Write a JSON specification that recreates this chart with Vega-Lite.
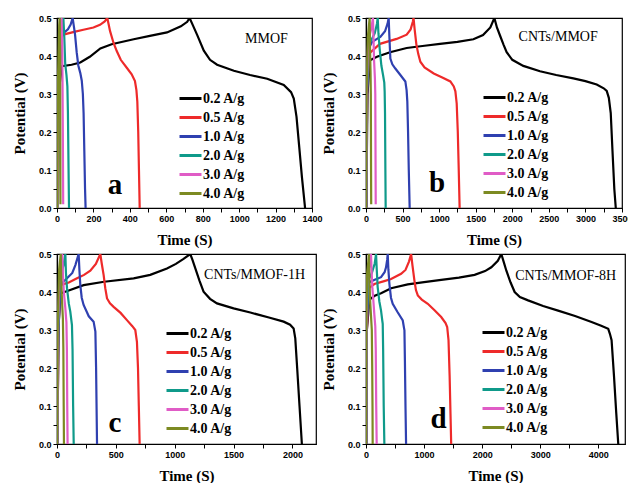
{
"$schema":"https://vega.github.io/schema/vega-lite/v6.json",
"background":"white",
"padding":{"left":11,"top":13,"right":0,"bottom":0},
"config":{
 "view":{"stroke":"black","strokeWidth":1.2},
 "axis":{"domainColor":"black","domainWidth":1.2,"tickColor":"black","tickWidth":1,"tickSize":4,"tickCount":100,"labelFont":"Liberation Sans","labelFontWeight":"bold","labelFontSize":9,"labelColor":"black","labelPadding":2,"titleFont":"Liberation Serif","titleFontWeight":"bold","titleFontSize":15,"titleColor":"black","grid":false,"labelFlush":false,"labelOverlap":false},
 "axisX":{"titlePadding":9},
 "axisY":{"titlePadding":11},
 "legend":{"orient":"none","title":null,"symbolType":"M-1.1,0H1.1","symbolStrokeWidth":3,"symbolSize":400,"labelFont":"Liberation Serif","labelFontWeight":"bold","labelFontSize":14,"labelColor":"black","rowPadding":-1.5,"labelOffset":1},
 "text":{"font":"Liberation Serif","color":"black"}
},
"datasets":{
"curves":[
{"p":"a","s":"0.2 A/g","t":2,"v":0},{"p":"a","s":"0.2 A/g","t":8,"v":0.3},{"p":"a","s":"0.2 A/g","t":27,"v":0.373},{"p":"a","s":"0.2 A/g","t":80,"v":0.377},{"p":"a","s":"0.2 A/g","t":128,"v":0.383},{"p":"a","s":"0.2 A/g","t":180,"v":0.398},{"p":"a","s":"0.2 A/g","t":238,"v":0.42},{"p":"a","s":"0.2 A/g","t":300,"v":0.431},{"p":"a","s":"0.2 A/g","t":421,"v":0.444},{"p":"a","s":"0.2 A/g","t":510,"v":0.453},{"p":"a","s":"0.2 A/g","t":604,"v":0.462},{"p":"a","s":"0.2 A/g","t":680,"v":0.478},{"p":"a","s":"0.2 A/g","t":715,"v":0.49},{"p":"a","s":"0.2 A/g","t":728,"v":0.5},{"p":"a","s":"0.2 A/g","t":745,"v":0.482},{"p":"a","s":"0.2 A/g","t":770,"v":0.455},{"p":"a","s":"0.2 A/g","t":806,"v":0.414},{"p":"a","s":"0.2 A/g","t":840,"v":0.39},{"p":"a","s":"0.2 A/g","t":879,"v":0.377},{"p":"a","s":"0.2 A/g","t":971,"v":0.361},{"p":"a","s":"0.2 A/g","t":1060,"v":0.35},{"p":"a","s":"0.2 A/g","t":1154,"v":0.34},{"p":"a","s":"0.2 A/g","t":1245,"v":0.324},{"p":"a","s":"0.2 A/g","t":1285,"v":0.305},{"p":"a","s":"0.2 A/g","t":1300,"v":0.288},{"p":"a","s":"0.2 A/g","t":1315,"v":0.24},{"p":"a","s":"0.2 A/g","t":1330,"v":0.16},{"p":"a","s":"0.2 A/g","t":1345,"v":0.08},{"p":"a","s":"0.2 A/g","t":1362,"v":0},
{"p":"a","s":"0.5 A/g","t":3,"v":0},{"p":"a","s":"0.5 A/g","t":10,"v":0.3},{"p":"a","s":"0.5 A/g","t":25,"v":0.452},{"p":"a","s":"0.5 A/g","t":40,"v":0.457},{"p":"a","s":"0.5 A/g","t":100,"v":0.464},{"p":"a","s":"0.5 A/g","t":145,"v":0.469},{"p":"a","s":"0.5 A/g","t":200,"v":0.475},{"p":"a","s":"0.5 A/g","t":236,"v":0.482},{"p":"a","s":"0.5 A/g","t":262,"v":0.491},{"p":"a","s":"0.5 A/g","t":276,"v":0.5},{"p":"a","s":"0.5 A/g","t":284,"v":0.482},{"p":"a","s":"0.5 A/g","t":291,"v":0.466},{"p":"a","s":"0.5 A/g","t":310,"v":0.435},{"p":"a","s":"0.5 A/g","t":328,"v":0.413},{"p":"a","s":"0.5 A/g","t":350,"v":0.39},{"p":"a","s":"0.5 A/g","t":383,"v":0.369},{"p":"a","s":"0.5 A/g","t":410,"v":0.352},{"p":"a","s":"0.5 A/g","t":428,"v":0.334},{"p":"a","s":"0.5 A/g","t":436,"v":0.31},{"p":"a","s":"0.5 A/g","t":441,"v":0.28},{"p":"a","s":"0.5 A/g","t":446,"v":0.2},{"p":"a","s":"0.5 A/g","t":450,"v":0.1},{"p":"a","s":"0.5 A/g","t":454,"v":0},
{"p":"a","s":"1.0 A/g","t":4,"v":0},{"p":"a","s":"1.0 A/g","t":12,"v":0.35},{"p":"a","s":"1.0 A/g","t":25,"v":0.455},{"p":"a","s":"1.0 A/g","t":40,"v":0.462},{"p":"a","s":"1.0 A/g","t":60,"v":0.47},{"p":"a","s":"1.0 A/g","t":75,"v":0.483},{"p":"a","s":"1.0 A/g","t":86,"v":0.5},{"p":"a","s":"1.0 A/g","t":92,"v":0.48},{"p":"a","s":"1.0 A/g","t":99,"v":0.457},{"p":"a","s":"1.0 A/g","t":108,"v":0.41},{"p":"a","s":"1.0 A/g","t":117,"v":0.375},{"p":"a","s":"1.0 A/g","t":128,"v":0.355},{"p":"a","s":"1.0 A/g","t":136,"v":0.335},{"p":"a","s":"1.0 A/g","t":142,"v":0.3},{"p":"a","s":"1.0 A/g","t":146,"v":0.25},{"p":"a","s":"1.0 A/g","t":150,"v":0.15},{"p":"a","s":"1.0 A/g","t":154,"v":0.05},{"p":"a","s":"1.0 A/g","t":157,"v":0},
{"p":"a","s":"2.0 A/g","t":5,"v":0},{"p":"a","s":"2.0 A/g","t":15,"v":0.35},{"p":"a","s":"2.0 A/g","t":28,"v":0.46},{"p":"a","s":"2.0 A/g","t":35,"v":0.5},{"p":"a","s":"2.0 A/g","t":40,"v":0.45},{"p":"a","s":"2.0 A/g","t":45,"v":0.38},{"p":"a","s":"2.0 A/g","t":52,"v":0.35},{"p":"a","s":"2.0 A/g","t":57,"v":0.32},{"p":"a","s":"2.0 A/g","t":60,"v":0.25},{"p":"a","s":"2.0 A/g","t":63,"v":0.12},{"p":"a","s":"2.0 A/g","t":66,"v":0},
{"p":"a","s":"3.0 A/g","t":3,"v":0},{"p":"a","s":"3.0 A/g","t":10,"v":0.35},{"p":"a","s":"3.0 A/g","t":20,"v":0.48},{"p":"a","s":"3.0 A/g","t":25,"v":0.5},{"p":"a","s":"3.0 A/g","t":28,"v":0.44},{"p":"a","s":"3.0 A/g","t":30,"v":0.35},{"p":"a","s":"3.0 A/g","t":32,"v":0.2},{"p":"a","s":"3.0 A/g","t":34,"v":0.01},
{"p":"a","s":"4.0 A/g","t":2,"v":0},{"p":"a","s":"4.0 A/g","t":6,"v":0.35},{"p":"a","s":"4.0 A/g","t":12,"v":0.48},{"p":"a","s":"4.0 A/g","t":15,"v":0.5},{"p":"a","s":"4.0 A/g","t":17,"v":0.4},{"p":"a","s":"4.0 A/g","t":18,"v":0.2},{"p":"a","s":"4.0 A/g","t":19,"v":0.01},

{"p":"b","s":"0.2 A/g","t":5,"v":0},{"p":"b","s":"0.2 A/g","t":20,"v":0.3},{"p":"b","s":"0.2 A/g","t":55,"v":0.389},{"p":"b","s":"0.2 A/g","t":150,"v":0.398},{"p":"b","s":"0.2 A/g","t":328,"v":0.41},{"p":"b","s":"0.2 A/g","t":556,"v":0.421},{"p":"b","s":"0.2 A/g","t":800,"v":0.427},{"p":"b","s":"0.2 A/g","t":1012,"v":0.432},{"p":"b","s":"0.2 A/g","t":1250,"v":0.437},{"p":"b","s":"0.2 A/g","t":1468,"v":0.444},{"p":"b","s":"0.2 A/g","t":1600,"v":0.455},{"p":"b","s":"0.2 A/g","t":1700,"v":0.475},{"p":"b","s":"0.2 A/g","t":1755,"v":0.5},{"p":"b","s":"0.2 A/g","t":1790,"v":0.475},{"p":"b","s":"0.2 A/g","t":1832,"v":0.454},{"p":"b","s":"0.2 A/g","t":1880,"v":0.43},{"p":"b","s":"0.2 A/g","t":1923,"v":0.41},{"p":"b","s":"0.2 A/g","t":2000,"v":0.39},{"p":"b","s":"0.2 A/g","t":2151,"v":0.374},{"p":"b","s":"0.2 A/g","t":2379,"v":0.36},{"p":"b","s":"0.2 A/g","t":2600,"v":0.35},{"p":"b","s":"0.2 A/g","t":2835,"v":0.341},{"p":"b","s":"0.2 A/g","t":3000,"v":0.334},{"p":"b","s":"0.2 A/g","t":3154,"v":0.325},{"p":"b","s":"0.2 A/g","t":3250,"v":0.315},{"p":"b","s":"0.2 A/g","t":3291,"v":0.308},{"p":"b","s":"0.2 A/g","t":3320,"v":0.29},{"p":"b","s":"0.2 A/g","t":3346,"v":0.25},{"p":"b","s":"0.2 A/g","t":3370,"v":0.15},{"p":"b","s":"0.2 A/g","t":3395,"v":0.05},{"p":"b","s":"0.2 A/g","t":3415,"v":0},
{"p":"b","s":"0.5 A/g","t":5,"v":0},{"p":"b","s":"0.5 A/g","t":15,"v":0.3},{"p":"b","s":"0.5 A/g","t":40,"v":0.406},{"p":"b","s":"0.5 A/g","t":191,"v":0.432},{"p":"b","s":"0.5 A/g","t":419,"v":0.445},{"p":"b","s":"0.5 A/g","t":556,"v":0.456},{"p":"b","s":"0.5 A/g","t":610,"v":0.47},{"p":"b","s":"0.5 A/g","t":640,"v":0.49},{"p":"b","s":"0.5 A/g","t":650,"v":0.5},{"p":"b","s":"0.5 A/g","t":665,"v":0.47},{"p":"b","s":"0.5 A/g","t":689,"v":0.43},{"p":"b","s":"0.5 A/g","t":715,"v":0.405},{"p":"b","s":"0.5 A/g","t":743,"v":0.385},{"p":"b","s":"0.5 A/g","t":800,"v":0.37},{"p":"b","s":"0.5 A/g","t":926,"v":0.354},{"p":"b","s":"0.5 A/g","t":1050,"v":0.343},{"p":"b","s":"0.5 A/g","t":1153,"v":0.333},{"p":"b","s":"0.5 A/g","t":1200,"v":0.32},{"p":"b","s":"0.5 A/g","t":1222,"v":0.307},{"p":"b","s":"0.5 A/g","t":1240,"v":0.275},{"p":"b","s":"0.5 A/g","t":1255,"v":0.2},{"p":"b","s":"0.5 A/g","t":1268,"v":0.1},{"p":"b","s":"0.5 A/g","t":1280,"v":0},
{"p":"b","s":"1.0 A/g","t":5,"v":0},{"p":"b","s":"1.0 A/g","t":15,"v":0.3},{"p":"b","s":"1.0 A/g","t":40,"v":0.42},{"p":"b","s":"1.0 A/g","t":82,"v":0.437},{"p":"b","s":"1.0 A/g","t":150,"v":0.445},{"p":"b","s":"1.0 A/g","t":196,"v":0.45},{"p":"b","s":"1.0 A/g","t":260,"v":0.465},{"p":"b","s":"1.0 A/g","t":295,"v":0.485},{"p":"b","s":"1.0 A/g","t":310,"v":0.5},{"p":"b","s":"1.0 A/g","t":320,"v":0.45},{"p":"b","s":"1.0 A/g","t":333,"v":0.393},{"p":"b","s":"1.0 A/g","t":360,"v":0.378},{"p":"b","s":"1.0 A/g","t":401,"v":0.367},{"p":"b","s":"1.0 A/g","t":470,"v":0.35},{"p":"b","s":"1.0 A/g","t":538,"v":0.333},{"p":"b","s":"1.0 A/g","t":555,"v":0.31},{"p":"b","s":"1.0 A/g","t":565,"v":0.28},{"p":"b","s":"1.0 A/g","t":575,"v":0.2},{"p":"b","s":"1.0 A/g","t":585,"v":0.1},{"p":"b","s":"1.0 A/g","t":597,"v":0},
{"p":"b","s":"2.0 A/g","t":4,"v":0},{"p":"b","s":"2.0 A/g","t":12,"v":0.3},{"p":"b","s":"2.0 A/g","t":35,"v":0.43},{"p":"b","s":"2.0 A/g","t":80,"v":0.445},{"p":"b","s":"2.0 A/g","t":120,"v":0.46},{"p":"b","s":"2.0 A/g","t":150,"v":0.485},{"p":"b","s":"2.0 A/g","t":160,"v":0.5},{"p":"b","s":"2.0 A/g","t":170,"v":0.46},{"p":"b","s":"2.0 A/g","t":187,"v":0.419},{"p":"b","s":"2.0 A/g","t":210,"v":0.375},{"p":"b","s":"2.0 A/g","t":233,"v":0.35},{"p":"b","s":"2.0 A/g","t":250,"v":0.33},{"p":"b","s":"2.0 A/g","t":255,"v":0.307},{"p":"b","s":"2.0 A/g","t":260,"v":0.25},{"p":"b","s":"2.0 A/g","t":265,"v":0.1},{"p":"b","s":"2.0 A/g","t":269,"v":0},
{"p":"b","s":"3.0 A/g","t":3,"v":0},{"p":"b","s":"3.0 A/g","t":10,"v":0.3},{"p":"b","s":"3.0 A/g","t":30,"v":0.44},{"p":"b","s":"3.0 A/g","t":70,"v":0.47},{"p":"b","s":"3.0 A/g","t":95,"v":0.5},{"p":"b","s":"3.0 A/g","t":102,"v":0.45},{"p":"b","s":"3.0 A/g","t":110,"v":0.39},{"p":"b","s":"3.0 A/g","t":122,"v":0.34},{"p":"b","s":"3.0 A/g","t":127,"v":0.3},{"p":"b","s":"3.0 A/g","t":130,"v":0.15},{"p":"b","s":"3.0 A/g","t":133,"v":0.01},
{"p":"b","s":"4.0 A/g","t":2,"v":0},{"p":"b","s":"4.0 A/g","t":8,"v":0.3},{"p":"b","s":"4.0 A/g","t":25,"v":0.45},{"p":"b","s":"4.0 A/g","t":50,"v":0.5},{"p":"b","s":"4.0 A/g","t":55,"v":0.42},{"p":"b","s":"4.0 A/g","t":62,"v":0.36},{"p":"b","s":"4.0 A/g","t":66,"v":0.3},{"p":"b","s":"4.0 A/g","t":69,"v":0.1},{"p":"b","s":"4.0 A/g","t":71,"v":0.01},

{"p":"c","s":"0.2 A/g","t":4,"v":0},{"p":"c","s":"0.2 A/g","t":12,"v":0.3},{"p":"c","s":"0.2 A/g","t":28,"v":0.396},{"p":"c","s":"0.2 A/g","t":100,"v":0.404},{"p":"c","s":"0.2 A/g","t":226,"v":0.418},{"p":"c","s":"0.2 A/g","t":400,"v":0.427},{"p":"c","s":"0.2 A/g","t":651,"v":0.436},{"p":"c","s":"0.2 A/g","t":792,"v":0.445},{"p":"c","s":"0.2 A/g","t":934,"v":0.462},{"p":"c","s":"0.2 A/g","t":1010,"v":0.474},{"p":"c","s":"0.2 A/g","t":1075,"v":0.487},{"p":"c","s":"0.2 A/g","t":1132,"v":0.5},{"p":"c","s":"0.2 A/g","t":1150,"v":0.485},{"p":"c","s":"0.2 A/g","t":1175,"v":0.462},{"p":"c","s":"0.2 A/g","t":1210,"v":0.43},{"p":"c","s":"0.2 A/g","t":1245,"v":0.401},{"p":"c","s":"0.2 A/g","t":1300,"v":0.382},{"p":"c","s":"0.2 A/g","t":1359,"v":0.37},{"p":"c","s":"0.2 A/g","t":1500,"v":0.357},{"p":"c","s":"0.2 A/g","t":1642,"v":0.346},{"p":"c","s":"0.2 A/g","t":1800,"v":0.333},{"p":"c","s":"0.2 A/g","t":1925,"v":0.322},{"p":"c","s":"0.2 A/g","t":1980,"v":0.314},{"p":"c","s":"0.2 A/g","t":2010,"v":0.304},{"p":"c","s":"0.2 A/g","t":2024,"v":0.278},{"p":"c","s":"0.2 A/g","t":2040,"v":0.2},{"p":"c","s":"0.2 A/g","t":2060,"v":0.1},{"p":"c","s":"0.2 A/g","t":2080,"v":0},
{"p":"c","s":"0.5 A/g","t":4,"v":0},{"p":"c","s":"0.5 A/g","t":12,"v":0.3},{"p":"c","s":"0.5 A/g","t":28,"v":0.418},{"p":"c","s":"0.5 A/g","t":100,"v":0.425},{"p":"c","s":"0.5 A/g","t":170,"v":0.436},{"p":"c","s":"0.5 A/g","t":230,"v":0.445},{"p":"c","s":"0.5 A/g","t":283,"v":0.456},{"p":"c","s":"0.5 A/g","t":330,"v":0.474},{"p":"c","s":"0.5 A/g","t":368,"v":0.5},{"p":"c","s":"0.5 A/g","t":380,"v":0.475},{"p":"c","s":"0.5 A/g","t":396,"v":0.445},{"p":"c","s":"0.5 A/g","t":410,"v":0.41},{"p":"c","s":"0.5 A/g","t":425,"v":0.383},{"p":"c","s":"0.5 A/g","t":450,"v":0.37},{"p":"c","s":"0.5 A/g","t":481,"v":0.361},{"p":"c","s":"0.5 A/g","t":540,"v":0.345},{"p":"c","s":"0.5 A/g","t":594,"v":0.326},{"p":"c","s":"0.5 A/g","t":640,"v":0.31},{"p":"c","s":"0.5 A/g","t":665,"v":0.3},{"p":"c","s":"0.5 A/g","t":679,"v":0.269},{"p":"c","s":"0.5 A/g","t":688,"v":0.2},{"p":"c","s":"0.5 A/g","t":695,"v":0.1},{"p":"c","s":"0.5 A/g","t":702,"v":0},
{"p":"c","s":"1.0 A/g","t":4,"v":0},{"p":"c","s":"1.0 A/g","t":12,"v":0.3},{"p":"c","s":"1.0 A/g","t":30,"v":0.42},{"p":"c","s":"1.0 A/g","t":85,"v":0.436},{"p":"c","s":"1.0 A/g","t":130,"v":0.45},{"p":"c","s":"1.0 A/g","t":156,"v":0.471},{"p":"c","s":"1.0 A/g","t":184,"v":0.5},{"p":"c","s":"1.0 A/g","t":190,"v":0.46},{"p":"c","s":"1.0 A/g","t":198,"v":0.418},{"p":"c","s":"1.0 A/g","t":210,"v":0.385},{"p":"c","s":"1.0 A/g","t":226,"v":0.366},{"p":"c","s":"1.0 A/g","t":270,"v":0.336},{"p":"c","s":"1.0 A/g","t":311,"v":0.322},{"p":"c","s":"1.0 A/g","t":326,"v":0.296},{"p":"c","s":"1.0 A/g","t":332,"v":0.2},{"p":"c","s":"1.0 A/g","t":336,"v":0.1},{"p":"c","s":"1.0 A/g","t":340,"v":0},
{"p":"c","s":"2.0 A/g","t":3,"v":0},{"p":"c","s":"2.0 A/g","t":10,"v":0.3},{"p":"c","s":"2.0 A/g","t":25,"v":0.43},{"p":"c","s":"2.0 A/g","t":55,"v":0.47},{"p":"c","s":"2.0 A/g","t":71,"v":0.5},{"p":"c","s":"2.0 A/g","t":76,"v":0.45},{"p":"c","s":"2.0 A/g","t":85,"v":0.41},{"p":"c","s":"2.0 A/g","t":100,"v":0.37},{"p":"c","s":"2.0 A/g","t":113,"v":0.348},{"p":"c","s":"2.0 A/g","t":127,"v":0.313},{"p":"c","s":"2.0 A/g","t":132,"v":0.25},{"p":"c","s":"2.0 A/g","t":137,"v":0.1},{"p":"c","s":"2.0 A/g","t":142,"v":0},
{"p":"c","s":"3.0 A/g","t":3,"v":0},{"p":"c","s":"3.0 A/g","t":8,"v":0.3},{"p":"c","s":"3.0 A/g","t":22,"v":0.45},{"p":"c","s":"3.0 A/g","t":45,"v":0.5},{"p":"c","s":"3.0 A/g","t":50,"v":0.45},{"p":"c","s":"3.0 A/g","t":58,"v":0.4},{"p":"c","s":"3.0 A/g","t":70,"v":0.36},{"p":"c","s":"3.0 A/g","t":80,"v":0.32},{"p":"c","s":"3.0 A/g","t":84,"v":0.25},{"p":"c","s":"3.0 A/g","t":87,"v":0.1},{"p":"c","s":"3.0 A/g","t":90,"v":0},
{"p":"c","s":"4.0 A/g","t":2,"v":0},{"p":"c","s":"4.0 A/g","t":6,"v":0.3},{"p":"c","s":"4.0 A/g","t":18,"v":0.46},{"p":"c","s":"4.0 A/g","t":32,"v":0.5},{"p":"c","s":"4.0 A/g","t":36,"v":0.43},{"p":"c","s":"4.0 A/g","t":42,"v":0.38},{"p":"c","s":"4.0 A/g","t":50,"v":0.33},{"p":"c","s":"4.0 A/g","t":54,"v":0.25},{"p":"c","s":"4.0 A/g","t":57,"v":0.1},{"p":"c","s":"4.0 A/g","t":59,"v":0},

{"p":"d","s":"0.2 A/g","t":5,"v":0},{"p":"d","s":"0.2 A/g","t":15,"v":0.3},{"p":"d","s":"0.2 A/g","t":58,"v":0.38},{"p":"d","s":"0.2 A/g","t":150,"v":0.39},{"p":"d","s":"0.2 A/g","t":259,"v":0.397},{"p":"d","s":"0.2 A/g","t":432,"v":0.41},{"p":"d","s":"0.2 A/g","t":719,"v":0.42},{"p":"d","s":"0.2 A/g","t":1000,"v":0.426},{"p":"d","s":"0.2 A/g","t":1295,"v":0.432},{"p":"d","s":"0.2 A/g","t":1600,"v":0.438},{"p":"d","s":"0.2 A/g","t":1870,"v":0.445},{"p":"d","s":"0.2 A/g","t":2050,"v":0.455},{"p":"d","s":"0.2 A/g","t":2158,"v":0.465},{"p":"d","s":"0.2 A/g","t":2270,"v":0.482},{"p":"d","s":"0.2 A/g","t":2330,"v":0.5},{"p":"d","s":"0.2 A/g","t":2370,"v":0.48},{"p":"d","s":"0.2 A/g","t":2417,"v":0.456},{"p":"d","s":"0.2 A/g","t":2490,"v":0.425},{"p":"d","s":"0.2 A/g","t":2560,"v":0.4},{"p":"d","s":"0.2 A/g","t":2650,"v":0.387},{"p":"d","s":"0.2 A/g","t":2791,"v":0.378},{"p":"d","s":"0.2 A/g","t":3050,"v":0.363},{"p":"d","s":"0.2 A/g","t":3308,"v":0.351},{"p":"d","s":"0.2 A/g","t":3600,"v":0.337},{"p":"d","s":"0.2 A/g","t":3884,"v":0.321},{"p":"d","s":"0.2 A/g","t":4050,"v":0.311},{"p":"d","s":"0.2 A/g","t":4171,"v":0.303},{"p":"d","s":"0.2 A/g","t":4200,"v":0.29},{"p":"d","s":"0.2 A/g","t":4229,"v":0.273},{"p":"d","s":"0.2 A/g","t":4270,"v":0.18},{"p":"d","s":"0.2 A/g","t":4310,"v":0.08},{"p":"d","s":"0.2 A/g","t":4344,"v":0},
{"p":"d","s":"0.5 A/g","t":5,"v":0},{"p":"d","s":"0.5 A/g","t":15,"v":0.3},{"p":"d","s":"0.5 A/g","t":50,"v":0.41},{"p":"d","s":"0.5 A/g","t":144,"v":0.421},{"p":"d","s":"0.5 A/g","t":300,"v":0.428},{"p":"d","s":"0.5 A/g","t":432,"v":0.434},{"p":"d","s":"0.5 A/g","t":604,"v":0.448},{"p":"d","s":"0.5 A/g","t":680,"v":0.458},{"p":"d","s":"0.5 A/g","t":740,"v":0.48},{"p":"d","s":"0.5 A/g","t":777,"v":0.5},{"p":"d","s":"0.5 A/g","t":800,"v":0.47},{"p":"d","s":"0.5 A/g","t":834,"v":0.43},{"p":"d","s":"0.5 A/g","t":860,"v":0.405},{"p":"d","s":"0.5 A/g","t":892,"v":0.391},{"p":"d","s":"0.5 A/g","t":960,"v":0.38},{"p":"d","s":"0.5 A/g","t":1064,"v":0.369},{"p":"d","s":"0.5 A/g","t":1180,"v":0.352},{"p":"d","s":"0.5 A/g","t":1295,"v":0.334},{"p":"d","s":"0.5 A/g","t":1370,"v":0.318},{"p":"d","s":"0.5 A/g","t":1398,"v":0.308},{"p":"d","s":"0.5 A/g","t":1421,"v":0.273},{"p":"d","s":"0.5 A/g","t":1440,"v":0.18},{"p":"d","s":"0.5 A/g","t":1455,"v":0.08},{"p":"d","s":"0.5 A/g","t":1467,"v":0},
{"p":"d","s":"1.0 A/g","t":5,"v":0},{"p":"d","s":"1.0 A/g","t":12,"v":0.3},{"p":"d","s":"1.0 A/g","t":45,"v":0.425},{"p":"d","s":"1.0 A/g","t":150,"v":0.432},{"p":"d","s":"1.0 A/g","t":259,"v":0.439},{"p":"d","s":"1.0 A/g","t":320,"v":0.452},{"p":"d","s":"1.0 A/g","t":345,"v":0.465},{"p":"d","s":"1.0 A/g","t":365,"v":0.485},{"p":"d","s":"1.0 A/g","t":374,"v":0.5},{"p":"d","s":"1.0 A/g","t":385,"v":0.46},{"p":"d","s":"1.0 A/g","t":403,"v":0.421},{"p":"d","s":"1.0 A/g","t":430,"v":0.385},{"p":"d","s":"1.0 A/g","t":460,"v":0.369},{"p":"d","s":"1.0 A/g","t":540,"v":0.348},{"p":"d","s":"1.0 A/g","t":633,"v":0.325},{"p":"d","s":"1.0 A/g","t":655,"v":0.305},{"p":"d","s":"1.0 A/g","t":662,"v":0.299},{"p":"d","s":"1.0 A/g","t":670,"v":0.22},{"p":"d","s":"1.0 A/g","t":680,"v":0.1},{"p":"d","s":"1.0 A/g","t":690,"v":0},
{"p":"d","s":"2.0 A/g","t":4,"v":0},{"p":"d","s":"2.0 A/g","t":10,"v":0.3},{"p":"d","s":"2.0 A/g","t":35,"v":0.43},{"p":"d","s":"2.0 A/g","t":100,"v":0.45},{"p":"d","s":"2.0 A/g","t":150,"v":0.475},{"p":"d","s":"2.0 A/g","t":173,"v":0.5},{"p":"d","s":"2.0 A/g","t":185,"v":0.46},{"p":"d","s":"2.0 A/g","t":201,"v":0.413},{"p":"d","s":"2.0 A/g","t":230,"v":0.375},{"p":"d","s":"2.0 A/g","t":259,"v":0.351},{"p":"d","s":"2.0 A/g","t":280,"v":0.325},{"p":"d","s":"2.0 A/g","t":288,"v":0.316},{"p":"d","s":"2.0 A/g","t":295,"v":0.25},{"p":"d","s":"2.0 A/g","t":305,"v":0.1},{"p":"d","s":"2.0 A/g","t":316,"v":0},
{"p":"d","s":"3.0 A/g","t":3,"v":0},{"p":"d","s":"3.0 A/g","t":8,"v":0.3},{"p":"d","s":"3.0 A/g","t":25,"v":0.44},{"p":"d","s":"3.0 A/g","t":60,"v":0.47},{"p":"d","s":"3.0 A/g","t":86,"v":0.5},{"p":"d","s":"3.0 A/g","t":95,"v":0.46},{"p":"d","s":"3.0 A/g","t":110,"v":0.41},{"p":"d","s":"3.0 A/g","t":130,"v":0.37},{"p":"d","s":"3.0 A/g","t":144,"v":0.34},{"p":"d","s":"3.0 A/g","t":160,"v":0.31},{"p":"d","s":"3.0 A/g","t":168,"v":0.25},{"p":"d","s":"3.0 A/g","t":176,"v":0.1},{"p":"d","s":"3.0 A/g","t":184,"v":0},
{"p":"d","s":"4.0 A/g","t":2,"v":0},{"p":"d","s":"4.0 A/g","t":6,"v":0.3},{"p":"d","s":"4.0 A/g","t":20,"v":0.45},{"p":"d","s":"4.0 A/g","t":40,"v":0.48},{"p":"d","s":"4.0 A/g","t":50,"v":0.5},{"p":"d","s":"4.0 A/g","t":58,"v":0.44},{"p":"d","s":"4.0 A/g","t":70,"v":0.38},{"p":"d","s":"4.0 A/g","t":85,"v":0.34},{"p":"d","s":"4.0 A/g","t":100,"v":0.3},{"p":"d","s":"4.0 A/g","t":107,"v":0.2},{"p":"d","s":"4.0 A/g","t":112,"v":0.1},{"p":"d","s":"4.0 A/g","t":115,"v":0}
],
"labels":[
{"p":"a","k":"name","t":1150,"v":0.445,"txt":"MMOF"},{"p":"a","k":"letter","t":318,"v":0.037,"txt":"a"},
{"p":"b","k":"name","t":2627,"v":0.45,"txt":"CNTs/MMOF"},{"p":"b","k":"letter","t":971,"v":0.042,"txt":"b"},
{"p":"c","k":"name","t":1678,"v":0.445,"txt":"CNTs/MMOF-1H"},{"p":"c","k":"letter","t":493,"v":0.032,"txt":"c"},
{"p":"d","k":"name","t":3439,"v":0.443,"txt":"CNTs/MMOF-8H"},{"p":"d","k":"letter","t":1248,"v":0.042,"txt":"d"}
]
},
"columns":2,
"align":"all",
"bounds":"flush",
"spacing":{"row":46,"column":50},
"resolve":{"scale":{"x":"independent","y":"independent","color":"independent"},"legend":{"color":"independent"}},
"concat":[
{"width":255,"height":190,
 "layer":[
  {"data":{"name":"curves"},"transform":[{"filter":"datum.p==='a'"}],"mark":{"type":"line","strokeWidth":2.2,"clip":true},
   "encoding":{
    "x":{"field":"t","type":"quantitative","title":"Time (S)","scale":{"domain":[0,1400],"nice":false},"axis":{"values":[0,100,200,300,400,500,600,700,800,900,1000,1100,1200,1300,1400],"tickCount":100,"format":"d","labelOverlap":false,"labelExpr":"datum.value % 200 === 0 ? datum.label : ''","encode":{"ticks":{"update":{"y2":{"signal":"datum.value % 200 === 0 ? 4 : 2"}}}}}},
    "y":{"field":"v","type":"quantitative","title":"Potential (V)","scale":{"domain":[0,0.5],"nice":false},"axis":{"values":[0,0.05,0.1,0.15,0.2,0.25,0.3,0.35,0.4,0.45,0.5],"tickCount":100,"format":".1f","labelOverlap":false,"labelExpr":"round(datum.value*100) % 10 === 0 ? datum.label : ''","encode":{"ticks":{"update":{"x2":{"signal":"round(datum.value*100) % 10 === 0 ? -4 : -2"}}}}}},
    "color":{"field":"s","type":"nominal","scale":{"domain":["0.2 A/g","0.5 A/g","1.0 A/g","2.0 A/g","3.0 A/g","4.0 A/g"],"range":["#000000","#ee2a2a","#2f40b0","#0f9a8a","#e05cc6","#7c8a22"]},"legend":{"legendX":122,"legendY":69}}
   }},
  {"data":{"name":"labels"},"transform":[{"filter":"datum.p==='a' && datum.k==='name'"}],"mark":{"type":"text","fontSize":14},
   "encoding":{"x":{"field":"t","type":"quantitative","title":"Time (S)"},"y":{"field":"v","type":"quantitative","title":"Potential (V)"},"text":{"field":"txt"}}},
  {"data":{"name":"labels"},"transform":[{"filter":"datum.p==='a' && datum.k==='letter'"}],"mark":{"type":"text","fontSize":29,"fontWeight":"bold","baseline":"alphabetic"},
   "encoding":{"x":{"field":"t","type":"quantitative","title":"Time (S)"},"y":{"field":"v","type":"quantitative","title":"Potential (V)"},"text":{"field":"txt"}}}
 ]},
{"width":256,"height":190,
 "layer":[
  {"data":{"name":"curves"},"transform":[{"filter":"datum.p==='b'"}],"mark":{"type":"line","strokeWidth":2.2,"clip":true},
   "encoding":{
    "x":{"field":"t","type":"quantitative","title":"Time (S)","scale":{"domain":[0,3500],"nice":false},"axis":{"values":[0,250,500,750,1000,1250,1500,1750,2000,2250,2500,2750,3000,3250,3500],"tickCount":100,"labelOverlap":false,"labelExpr":"datum.value % 500 === 0 ? datum.label : ''","format":"d","encode":{"ticks":{"update":{"y2":{"signal":"datum.value % 500 === 0 ? 4 : 2"}}}}}},
    "y":{"field":"v","type":"quantitative","title":"Potential (V)","scale":{"domain":[0,0.5],"nice":false},"axis":{"values":[0,0.05,0.1,0.15,0.2,0.25,0.3,0.35,0.4,0.45,0.5],"tickCount":100,"format":".1f","labelOverlap":false,"labelExpr":"round(datum.value*100) % 10 === 0 ? datum.label : ''","encode":{"ticks":{"update":{"x2":{"signal":"round(datum.value*100) % 10 === 0 ? -4 : -2"}}}}}},
    "color":{"field":"s","type":"nominal","scale":{"domain":["0.2 A/g","0.5 A/g","1.0 A/g","2.0 A/g","3.0 A/g","4.0 A/g"],"range":["#000000","#ee2a2a","#2f40b0","#0f9a8a","#e05cc6","#7c8a22"]},"legend":{"legendX":117,"legendY":68}}
   }},
  {"data":{"name":"labels"},"transform":[{"filter":"datum.p==='b' && datum.k==='name'"}],"mark":{"type":"text","fontSize":14},
   "encoding":{"x":{"field":"t","type":"quantitative","title":"Time (S)"},"y":{"field":"v","type":"quantitative","title":"Potential (V)"},"text":{"field":"txt"}}},
  {"data":{"name":"labels"},"transform":[{"filter":"datum.p==='b' && datum.k==='letter'"}],"mark":{"type":"text","fontSize":29,"fontWeight":"bold","baseline":"alphabetic"},
   "encoding":{"x":{"field":"t","type":"quantitative","title":"Time (S)"},"y":{"field":"v","type":"quantitative","title":"Potential (V)"},"text":{"field":"txt"}}}
 ]},
{"width":259,"height":190,
 "layer":[
  {"data":{"name":"curves"},"transform":[{"filter":"datum.p==='c'"}],"mark":{"type":"line","strokeWidth":2.2,"clip":true},
   "encoding":{
    "x":{"field":"t","type":"quantitative","title":"Time (S)","scale":{"domain":[0,2200],"nice":false},"axis":{"values":[0,250,500,750,1000,1250,1500,1750,2000],"tickCount":100,"labelOverlap":false,"labelExpr":"datum.value % 500 === 0 ? datum.label : ''","format":"d","encode":{"ticks":{"update":{"y2":{"signal":"datum.value % 500 === 0 ? 4 : 2"}}}}}},
    "y":{"field":"v","type":"quantitative","title":"Potential (V)","scale":{"domain":[0,0.5],"nice":false},"axis":{"values":[0,0.05,0.1,0.15,0.2,0.25,0.3,0.35,0.4,0.45,0.5],"tickCount":100,"format":".1f","labelOverlap":false,"labelExpr":"round(datum.value*100) % 10 === 0 ? datum.label : ''","encode":{"ticks":{"update":{"x2":{"signal":"round(datum.value*100) % 10 === 0 ? -4 : -2"}}}}}},
    "color":{"field":"s","type":"nominal","scale":{"domain":["0.2 A/g","0.5 A/g","1.0 A/g","2.0 A/g","3.0 A/g","4.0 A/g"],"range":["#000000","#ee2a2a","#2f40b0","#0f9a8a","#e05cc6","#7c8a22"]},"legend":{"legendX":109,"legendY":68}}
   }},
  {"data":{"name":"labels"},"transform":[{"filter":"datum.p==='c' && datum.k==='name'"}],"mark":{"type":"text","fontSize":14},
   "encoding":{"x":{"field":"t","type":"quantitative","title":"Time (S)"},"y":{"field":"v","type":"quantitative","title":"Potential (V)"},"text":{"field":"txt"}}},
  {"data":{"name":"labels"},"transform":[{"filter":"datum.p==='c' && datum.k==='letter'"}],"mark":{"type":"text","fontSize":29,"fontWeight":"bold","baseline":"alphabetic"},
   "encoding":{"x":{"field":"t","type":"quantitative","title":"Time (S)"},"y":{"field":"v","type":"quantitative","title":"Potential (V)"},"text":{"field":"txt"}}}
 ]},
{"width":259,"height":190,
 "layer":[
  {"data":{"name":"curves"},"transform":[{"filter":"datum.p==='d'"}],"mark":{"type":"line","strokeWidth":2.2,"clip":true},
   "encoding":{
    "x":{"field":"t","type":"quantitative","title":"Time (S)","scale":{"domain":[0,4460],"nice":false},"axis":{"values":[0,500,1000,1500,2000,2500,3000,3500,4000],"tickCount":100,"labelOverlap":false,"labelExpr":"datum.value % 1000 === 0 ? datum.label : ''","format":"d","encode":{"ticks":{"update":{"y2":{"signal":"datum.value % 1000 === 0 ? 4 : 2"}}}}}},
    "y":{"field":"v","type":"quantitative","title":"Potential (V)","scale":{"domain":[0,0.5],"nice":false},"axis":{"values":[0,0.05,0.1,0.15,0.2,0.25,0.3,0.35,0.4,0.45,0.5],"tickCount":100,"format":".1f","labelOverlap":false,"labelExpr":"round(datum.value*100) % 10 === 0 ? datum.label : ''","encode":{"ticks":{"update":{"x2":{"signal":"round(datum.value*100) % 10 === 0 ? -4 : -2"}}}}}},
    "color":{"field":"s","type":"nominal","scale":{"domain":["0.2 A/g","0.5 A/g","1.0 A/g","2.0 A/g","3.0 A/g","4.0 A/g"],"range":["#000000","#ee2a2a","#2f40b0","#0f9a8a","#e05cc6","#7c8a22"]},"legend":{"legendX":116,"legendY":67}}
   }},
  {"data":{"name":"labels"},"transform":[{"filter":"datum.p==='d' && datum.k==='name'"}],"mark":{"type":"text","fontSize":14},
   "encoding":{"x":{"field":"t","type":"quantitative","title":"Time (S)"},"y":{"field":"v","type":"quantitative","title":"Potential (V)"},"text":{"field":"txt"}}},
  {"data":{"name":"labels"},"transform":[{"filter":"datum.p==='d' && datum.k==='letter'"}],"mark":{"type":"text","fontSize":29,"fontWeight":"bold","baseline":"alphabetic"},
   "encoding":{"x":{"field":"t","type":"quantitative","title":"Time (S)"},"y":{"field":"v","type":"quantitative","title":"Potential (V)"},"text":{"field":"txt"}}}
 ]}
]
}
